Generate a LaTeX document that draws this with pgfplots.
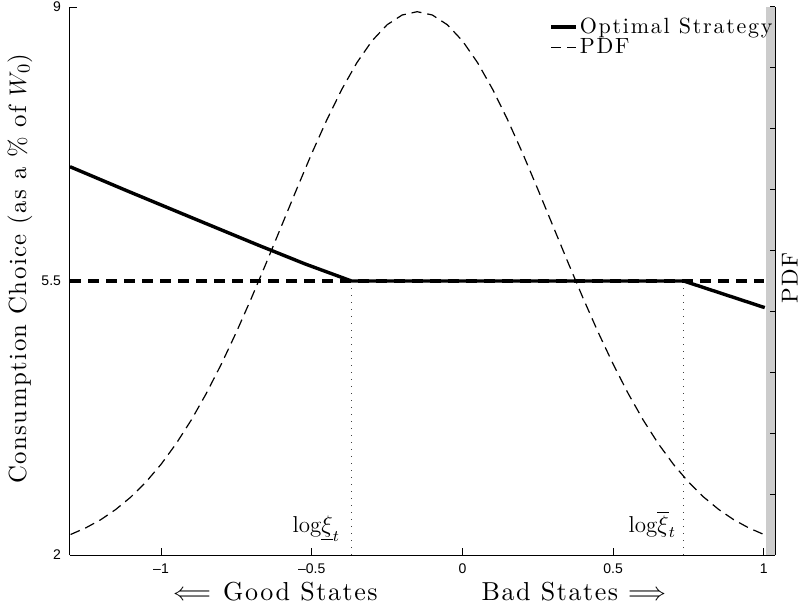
\documentclass[border=0pt]{standalone}
\usepackage{fontspec}
\usepackage{pgfplots}
\pgfplotsset{compat=1.18}
\newfontfamily\arial{Liberation Sans}
\newfontfamily\lmmath{latinmodern-math}[Extension=.otf]
\newfontfamily\lsfont{lmroman10-regular}[Extension=.otf, LetterSpace=6]
\newfontfamily\lsfontb{lmroman10-regular}[Extension=.otf, LetterSpace=8]
\begin{document}
\begin{tikzpicture}
\useasboundingbox (0,0) rectangle (401pt,305pt);
\begin{axis}[
  at={(35pt,27.5pt)}, anchor=south west,
  scale only axis, width=352.5pt, height=274pt,
  xmin=-1.302, xmax=1.037, ymin=2, ymax=9,
  axis x line=bottom, axis y line=left,
  axis line style={-, line width=0.5pt},
  xtick={-1,-0.5,0,0.5,1}, xticklabels={–1,–0.5,0,0.5,1},
  ytick={2,5.5,9}, yticklabels={2,5.5,9},
  tick align=inside, major tick length=3.5pt,
  tick style={line width=0.5pt, black},
  tick label style={font=\arial\fontsize{7}{8}\selectfont},
  xticklabel style={yshift=-1pt},
  yticklabel style={xshift=-1pt},
  every axis x label/.style={at={(axis description cs:0.496,0)}, anchor=base, yshift=-22.5pt, font=\fontsize{13}{15}\selectfont},
  xlabel={{\lmmath ⟸}\hspace{6pt}{\lsfont Good States}\hspace{52pt}{\lsfont Bad States}\hspace{5pt}{\lmmath ⟹}},
  every axis y label/.style={at={(axis description cs:-0.071,0.522)}, anchor=center, rotate=90, font=\fontsize{12.4}{14}\selectfont},
  ylabel={\lsfont Consumption Choice (as a \% of $W_0$)},
  legend style={at={(axis description cs:1.0,0.985)}, anchor=north east, draw=none, fill=none,
    font=\fontsize{11}{12}\selectfont, inner sep=0pt, row sep=-1pt,
    nodes={inner sep=1pt}},
  legend cell align=left,
  legend image code/.code={\draw[#1] (0pt,0pt) -- (12.5pt,0pt);},
]
\addplot[forget plot, draw=none, fill={rgb,255:red,204;green,204;blue,204}] coordinates {(1.007,2) (1.037,2) (1.037,9) (1.007,9)} -- cycle;
\addplot[forget plot, black, line width=1.7pt, dash pattern=on 5.5pt off 3.5pt] coordinates {(-1.302,5.5) (1.0,5.5)};
\addplot[forget plot, gray!50!black, line width=0.7pt, dash pattern=on 0.6pt off 2.9pt] coordinates {(-0.368,2) (-0.368,5.5)};
\addplot[forget plot, gray!50!black, line width=0.7pt, dash pattern=on 0.6pt off 2.9pt] coordinates {(0.734,2) (0.734,5.5)};
\addplot[black, line width=1.7pt] coordinates {(-1.302,6.96) (-1.114,6.654) (-0.893,6.301) (-0.671,5.948) (-0.52,5.715) (-0.368,5.5) (0.734,5.5) (1.003,5.16)};
\addlegendentry{\lsfontb Optimal Strategy}
\addplot[black, line width=0.6pt, dash pattern=on 5pt off 3pt] coordinates {
(-1.30,2.262) (-1.25,2.346) (-1.20,2.451) (-1.15,2.582) (-1.10,2.741) (-1.05,2.932)
(-1.00,3.158) (-0.95,3.421) (-0.90,3.722) (-0.85,4.062) (-0.80,4.438) (-0.75,4.847)
(-0.70,5.283) (-0.65,5.739) (-0.60,6.206) (-0.55,6.673) (-0.50,7.129) (-0.45,7.558)
(-0.40,7.950) (-0.35,8.290) (-0.30,8.568) (-0.25,8.773) (-0.20,8.898) (-0.15,8.940)
(-0.10,8.898) (-0.05,8.773) (0.00,8.568) (0.05,8.290) (0.10,7.950) (0.15,7.558)
(0.20,7.129) (0.25,6.673) (0.30,6.206) (0.35,5.739) (0.40,5.283) (0.45,4.847)
(0.50,4.438) (0.55,4.062) (0.60,3.722) (0.65,3.421) (0.70,3.158) (0.75,2.932)
(0.80,2.741) (0.85,2.582) (0.90,2.451) (0.95,2.346) (1.00,2.262)};
\addlegendentry{\lsfontb PDF}
\node[anchor=base east, font=\fontsize{11.5}{13}\selectfont, inner sep=0pt] at (axis cs:-0.405,2.29) {$\mathrm{log}\underline{\xi}_t$};
\node[anchor=base east, font=\fontsize{11.5}{13}\selectfont, inner sep=0pt] at (axis cs:0.71,2.29) {$\mathrm{log}\overline{\xi}_t$};
\end{axis}
\begin{axis}[
  at={(35pt,27.5pt)}, anchor=south west,
  scale only axis, width=352.5pt, height=274pt,
  xmin=-1.302, xmax=1.037, ymin=0, ymax=9,
  axis x line=none, axis y line*=right,
  axis line style={-, line width=0.5pt},
  ytick={0,1,...,9}, yticklabels={},
  tick align=inside, major tick length=2.5pt,
  tick style={line width=0.5pt, black},
  every axis y label/.style={at={(axis description cs:1.021,0.505)}, anchor=center, rotate=90, font=\fontsize{11.5}{14}\selectfont},
  ylabel={\lsfont PDF},
]
\end{axis}
\end{tikzpicture}
\end{document}
